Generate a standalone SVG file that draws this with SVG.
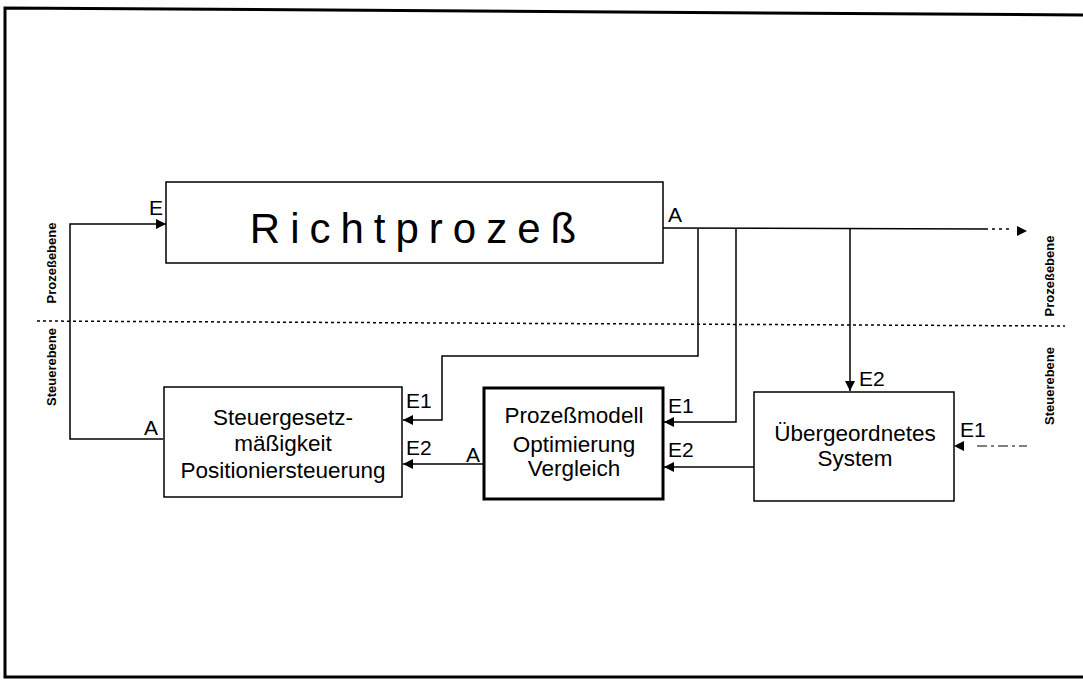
<svg xmlns="http://www.w3.org/2000/svg" width="1083" height="680" viewBox="0 0 1083 680">
<style>
.box{fill:#fff;stroke:#000;stroke-width:1.5}
.thick{fill:#fff;stroke:#000;stroke-width:3}
.ln{fill:none;stroke:#000;stroke-width:1.5}
.t{font-family:"Liberation Sans",Arial,sans-serif;fill:#000}
.lbl{font-family:"Liberation Sans",Arial,sans-serif;font-size:21px;fill:#000}
.side{font-family:"Liberation Sans",Arial,sans-serif;font-size:13px;font-weight:bold;fill:#000}
</style>
<defs>
<marker id="ah" viewBox="0 0 10 10" refX="10" refY="5" markerWidth="10" markerHeight="10" markerUnits="userSpaceOnUse" orient="auto">
<path d="M0,0 L10,5 L0,10 z" fill="#000"/>
</marker>
</defs>
<rect width="1083" height="680" fill="#fff"/>
<path d="M1090,15 L5,8 L5,677 L1090,677" fill="none" stroke="#000" stroke-width="3"/>
<g id="levels">
<line x1="37" y1="321" x2="1065" y2="326" stroke="#000" stroke-width="1.5" stroke-dasharray="3,3"/>
<text class="side" transform="translate(56,263) rotate(-90)" text-anchor="middle">Prozeßebene</text>
<text class="side" transform="translate(56,367) rotate(-90)" text-anchor="middle">Steuerebene</text>
<text class="side" transform="translate(1054,276) rotate(-90)" text-anchor="middle">Prozeßebene</text>
<text class="side" transform="translate(1054,386) rotate(-90)" text-anchor="middle">Steuerebene</text>
</g>
<g id="connectors">
<path class="ln" d="M163,439 L70,439 L70,224 L166,224" marker-end="url(#ah)"/>
<path class="ln" d="M663,228 L985,229"/>
<line x1="985" y1="229" x2="1010" y2="229" stroke="#000" stroke-width="1.5" stroke-dasharray="3,4"/>
<path d="M1017,226 L1027,231 L1017,236 z" fill="#000"/>
<path class="ln" d="M698,229 L698,356 L442,356 L442,420 L403,420" marker-end="url(#ah)"/>
<path class="ln" d="M736,229 L736,422 L664,422" marker-end="url(#ah)"/>
<path class="ln" d="M850,229 L850,391" marker-end="url(#ah)"/>
<path class="ln" d="M484,464 L403,464" marker-end="url(#ah)"/>
<path class="ln" d="M754,467 L664,467" marker-end="url(#ah)"/>
<line x1="977" y1="446" x2="1027" y2="446" stroke="#000" stroke-width="1.2" stroke-dasharray="10,4,3,4"/>
<path d="M964,441 L954,446 L964,451 z" fill="#000"/>
</g>
<g id="richtprozess">
<rect class="box" x="166" y="182" width="497" height="81"/>
<text class="t" x="418" y="243" font-size="42" letter-spacing="10" text-anchor="middle">Richtprozeß</text>
<text class="lbl" x="149" y="215">E</text>
<text class="lbl" x="668" y="222">A</text>
</g>
<g id="steuergesetz">
<rect class="box" x="164" y="387" width="238" height="110"/>
<text class="t" font-size="22.5" text-anchor="middle"><tspan x="283" y="425">Steuergesetz-</tspan><tspan x="283" y="451">mäßigkeit</tspan><tspan x="283" y="478">Positioniersteuerung</tspan></text>
<text class="lbl" x="144" y="435">A</text>
<text class="lbl" x="406" y="408">E1</text>
<text class="lbl" x="406" y="455">E2</text>
</g>
<g id="prozessmodell">
<rect class="thick" x="484" y="388" width="179" height="111"/>
<text class="t" font-size="22.5" text-anchor="middle"><tspan x="574" y="423">Prozeßmodell</tspan><tspan x="574" y="452">Optimierung</tspan><tspan x="574" y="476">Vergleich</tspan></text>
<text class="lbl" x="466" y="462">A</text>
<text class="lbl" x="668" y="413">E1</text>
<text class="lbl" x="668" y="457">E2</text>
</g>
<g id="uebergeordnet">
<rect class="box" x="754" y="392" width="200" height="109"/>
<text class="t" font-size="22.5" text-anchor="middle"><tspan x="855" y="441">Übergeordnetes</tspan><tspan x="855" y="466">System</tspan></text>
<text class="lbl" x="859" y="386">E2</text>
<text class="lbl" x="960" y="437">E1</text>
</g>
</svg>
